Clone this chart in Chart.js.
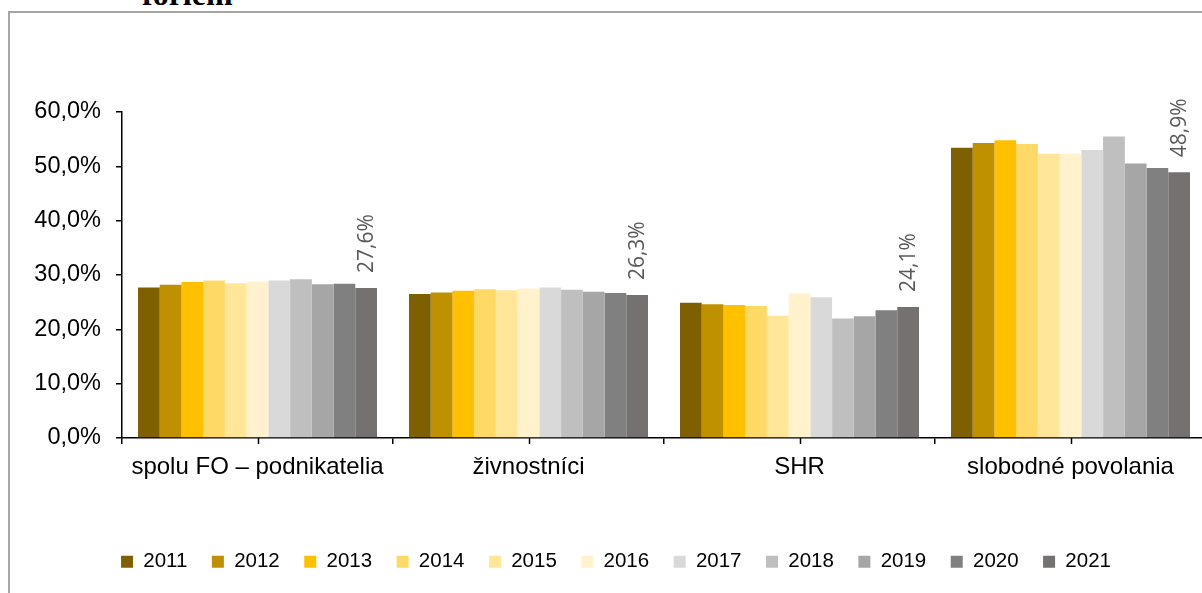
<!DOCTYPE html>
<html>
<head>
<meta charset="utf-8">
<script src="https://cdn.jsdelivr.net/npm/chart.js@4/dist/chart.umd.min.js"></script>
<style>
  html, body { margin: 0; padding: 0; background: #fff; overflow: hidden; }
  #title { position: absolute; left: 142px; top: -22px; font: bold 32px "Liberation Serif", serif; line-height: 32px; color: #000; white-space: nowrap; }
  #box { position: absolute; left: 8px; top: 11px; width: 1230px; height: 600px; border: 2px solid #a6a6a6; border-right: none; border-bottom: none; }
  #box canvas { position: absolute; left: 0; top: 0; }
</style>
</head>
<body>
<div id="title">foriem</div>
<div id="box"><canvas id="chart" width="1214" height="590"></canvas></div>
<script>
var categories = ["spolu FO – podnikatelia", "živnostníci", "SHR", "slobodné povolania"];
var years = ["2011", "2012", "2013", "2014", "2015", "2016", "2017", "2018", "2019", "2020", "2021"];
var yTickLabels = ["0,0%", "10,0%", "20,0%", "30,0%", "40,0%", "50,0%", "60,0%"];

// values per year, in the order of categories
var v2011 = [27.7, 26.5, 24.9, 53.4];
var v2012 = [28.2, 26.8, 24.6, 54.3];
var v2013 = [28.7, 27.1, 24.5, 54.8];
var v2014 = [29.0, 27.4, 24.3, 54.1];
var v2015 = [28.5, 27.2, 22.5, 52.3];
var v2016 = [28.8, 27.5, 26.6, 52.3];
var v2017 = [29.0, 27.7, 25.9, 53.0];
var v2018 = [29.2, 27.3, 22.0, 55.5];
var v2019 = [28.3, 26.9, 22.4, 50.5];
var v2020 = [28.4, 26.7, 23.5, 49.7];
var v2021 = [27.6, 26.3, 24.1, 48.9];

var series = [v2011, v2012, v2013, v2014, v2015, v2016, v2017, v2018, v2019, v2020, v2021];
var colors = ["#7F6000", "#BF9000", "#FFC000", "#FFD966", "#FFE699", "#FFF2CC",
              "#D9D9D9", "#BFBFBF", "#A6A6A6", "#808080", "#767171"];

var datasets = years.map(function (y, i) {
    return { label: y, data: series[i], backgroundColor: colors[i], borderWidth: 0,
             barPercentage: 1.0, categoryPercentage: 0.882 };
});

function pct(v) { return v.toFixed(1).replace(".", ",") + "%"; }

var fontFamily = "'Liberation Sans', Arial, sans-serif";

// tick marks at category centres (boundaries come from the grid)
var centerTicks = {
    id: "centerTicks",
    afterDraw: function (chart) {
        var ctx = chart.ctx, xs = chart.scales.x, y0 = chart.chartArea.bottom;
        ctx.save();
        ctx.strokeStyle = "#000";
        ctx.lineWidth = 1.5;
        categories.forEach(function (c, i) {
            var x = Math.round(xs.getPixelForValue(i)) + 0.5;
            ctx.beginPath();
            ctx.moveTo(x, y0);
            ctx.lineTo(x, y0 + 6);
            ctx.stroke();
        });
        ctx.restore();
    }
};

// rotated value labels on the last year only
var lastLabels = {
    id: "lastLabels",
    afterDatasetsDraw: function (chart) {
        var ctx = chart.ctx, di = chart.data.datasets.length - 1;
        var meta = chart.getDatasetMeta(di);
        ctx.save();
        ctx.fillStyle = "#595959";
        ctx.font = "21px 'Open Sans', sans-serif";
        ctx.textAlign = "left";
        ctx.textBaseline = "middle";
        meta.data.forEach(function (bar, i) {
            ctx.save();
            ctx.translate(bar.x + 1, bar.y - 15);
            ctx.rotate(-Math.PI / 2);
            ctx.fillText(pct(chart.data.datasets[di].data[i]), 0, 0);
            ctx.restore();
        });
        ctx.restore();
    }
};

var ctx = document.getElementById("chart").getContext("2d");
new Chart(ctx, {
    type: "bar",
    data: { labels: categories, datasets: datasets },
    options: {
        responsive: false,
        animation: false,
        layout: { padding: { top: 99, right: 18, bottom: 21, left: 16 } },
        plugins: {
            legend: {
                position: "bottom",
                labels: {
                    color: "#000",
                    font: { family: fontFamily, size: 20.5 },
                    boxWidth: 12, boxHeight: 12, padding: 24.5
                }
            },
            tooltip: { enabled: false }
        },
        scales: {
            x: {
                offset: true,
                grid: { offset: true, drawOnChartArea: false, drawTicks: true, tickLength: 6, color: "#000", lineWidth: 1.5 },
                border: { display: true, color: "#000", width: 1.5 },
                ticks: { color: "#000", padding: 9, maxRotation: 0,
                         font: { family: fontFamily, size: 24 } },
                afterFit: function (s) { s.height = 89; }
            },
            y: {
                min: 0, max: 60,
                ticks: { stepSize: 10, color: "#000", padding: 15,
                         font: { family: fontFamily, size: 23.5 },
                         callback: function (v) { return yTickLabels[Math.round(v / 10)]; } },
                grid: { drawOnChartArea: false, drawTicks: true, tickLength: 6, color: "#000", lineWidth: 1.5 },
                border: { display: true, color: "#000", width: 1.5 },
                afterFit: function (s) { s.width = 96; }
            }
        }
    },
    plugins: [centerTicks, lastLabels]
});
</script>
</body>
</html>
